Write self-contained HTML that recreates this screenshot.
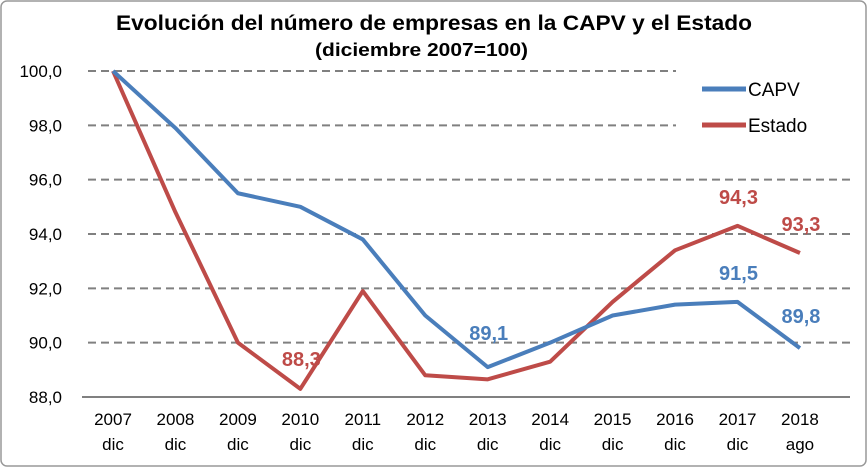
<!DOCTYPE html>
<html><head><meta charset="utf-8"><style>
html,body{margin:0;padding:0;background:#fff}
svg{display:block;font-family:"Liberation Sans",Calibri,sans-serif}
</style></head><body>
<svg id="chart" width="868" height="468" viewBox="0 0 868 468">
<rect x="1" y="1" width="865" height="465" rx="6" fill="#fff" stroke="#999" stroke-width="1.5"/>
<text x="116" y="30" textLength="636" lengthAdjust="spacingAndGlyphs" font-size="21" font-weight="bold" fill="#000">Evolución del número de empresas en la CAPV y el Estado</text>
<text x="315" y="56" textLength="213" lengthAdjust="spacingAndGlyphs" font-size="18" font-weight="bold" fill="#000">(diciembre 2007=100)</text>
<g id="grid"></g><g id="axes"></g><g id="series"></g>
<g>
<line x1="702" y1="89" x2="746" y2="89" stroke="#4a7ebb" stroke-width="5"/>
<text x="748" y="96" font-size="19" fill="#000">CAPV</text>
<line x1="702" y1="125" x2="746" y2="125" stroke="#be4b48" stroke-width="5"/>
<text x="748" y="132" font-size="19" fill="#000">Estado</text>
</g>
</svg>
<script>
const categories=["2007|dic","2008|dic","2009|dic","2010|dic","2011|dic","2012|dic","2013|dic","2014|dic","2015|dic","2016|dic","2017|dic","2018|ago"];
const capv=[100,97.9,95.5,95.0,93.8,91.0,89.1,90.0,91.0,91.4,91.5,89.8];
const estado=[100,94.8,90.0,88.3,91.9,88.8,88.65,89.3,91.5,93.4,94.3,93.3];
const yTicks=[88,90,92,94,96,98,100];
const capvLabels=[[6,"89,1",-27],[10,"91,5",-22],[11,"89,8",-25]];
const estadoLabels=[[3,"88,3",-23],[10,"94,3",-22],[11,"93,3",-22]];
const NS="http://www.w3.org/2000/svg";
const x0=113,dx=62.45,yTop=71,yBot=397,yMin=88,yMax=100;
const X=i=>x0+i*dx;
const Y=v=>yBot-(v-yMin)/(yMax-yMin)*(yBot-yTop);
function mk(t,a,p){const e=document.createElementNS(NS,t);for(const k in a)e.setAttribute(k,a[k]);p.appendChild(e);return e;}
const grid=document.getElementById('grid'),axes=document.getElementById('axes'),ser=document.getElementById('series');
yTicks.forEach(v=>{
  if(v>yMin){
    const l=mk('line',{x1:88,x2:(v>=98?676:850),y1:Y(v),y2:Y(v),stroke:'#808080','stroke-width':2,'stroke-dasharray':'8,5'},grid);
    
    
  }
  const t=mk('text',{x:62,y:Y(v)+6,'text-anchor':'end','font-size':17,fill:'#000'},axes);
  t.textContent=v.toFixed(1).replace('.',',');
  
  
});
const ax=mk('line',{x1:82,x2:850,y1:yBot,y2:yBot,stroke:'#808080','stroke-width':2},axes);


categories.forEach((c,i)=>{
  const [a,b]=c.split('|');
  const t=mk('text',{x:X(i),y:425,'text-anchor':'middle','font-size':17,fill:'#000'},axes);
  t.textContent=a;
  
  
  const t2=mk('text',{x:X(i),y:450,'text-anchor':'middle','font-size':17,fill:'#000'},axes);
  t2.textContent=b;
  
  
});
function line(vals,color,name){
  const p=mk('polyline',{points:vals.map((v,i)=>X(i)+','+Y(v)).join(' '),fill:'none',stroke:color,'stroke-width':4,'stroke-linejoin':'round'},ser);
  
  
}
line(estado,'#be4b48','estado-line');
line(capv,'#4a7ebb','capv-line');
function labels(arr,vals,color,name){
  arr.forEach(([i,s,dy])=>{
    const t=mk('text',{x:X(i)+1,y:Y(vals[i])+dy,'text-anchor':'middle','font-size':20,'font-weight':'bold',fill:color},ser);
    t.textContent=s;
    
    
  });
}
labels(capvLabels,capv,'#4a7ebb','capv-data-label');
labels(estadoLabels,estado,'#be4b48','estado-data-label');
</script>
</body></html>
